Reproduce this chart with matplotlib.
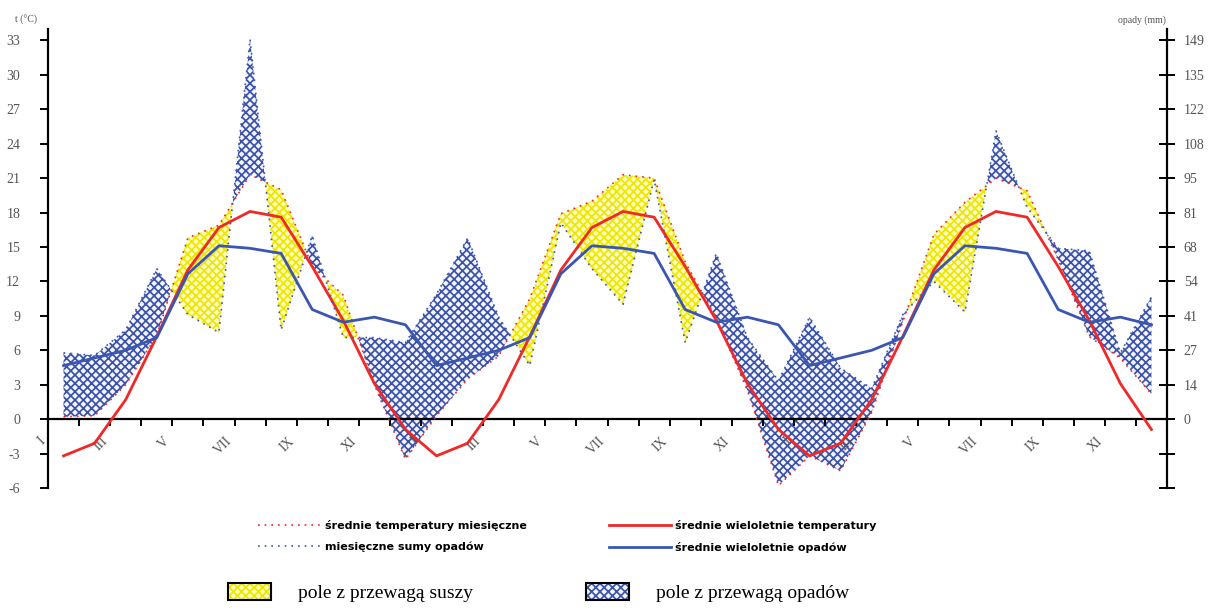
import numpy as np
import matplotlib.pyplot as plt
from matplotlib.lines import Line2D
from matplotlib.patches import Patch

months = ["I", "II", "III", "IV", "V", "VI", "VII", "VIII", "IX", "X", "XI", "XII"]

# monthly mean temperature (deg C), three consecutive years
temp_monthly = [0.2, 0.3, 3.0, 7.3, 15.8, 16.9, 21.3, 20.0, 13.3, 10.8, 3.0, -3.5,
                0.3, 3.5, 5.5, 10.5, 17.9, 19.0, 21.3, 21.0, 13.7, 8.8, 2.5, -5.8,
                -3.2, -4.5, 0.6, 8.5, 16.1, 18.9, 21.0, 19.9, 13.9, 7.2, 5.3, 2.2]
# monthly precipitation totals (mm)
prec_monthly = [26, 25, 35, 59, 41, 34, 149, 35, 72, 32, 32, 30,
                49, 71, 40, 21, 77, 59, 45, 94, 30, 65, 32, 15,
                40, 20, 12, 41, 54, 42, 113, 83, 67, 66, 26, 48]
# long-term means
temp_longterm = [-3.2, -2.1, 1.7, 7.2, 13.0, 16.7, 18.1, 17.6, 13.3, 8.6, 3.1, -0.9]
prec_longterm = [21, 24, 27, 32, 57, 68, 67, 65, 43, 38, 40, 37]

n_years = 3
mm_per_deg = 4.5

YELLOW_FACE = "#fffcc0"
YELLOW_HATCH = "#ece600"
BLUE_FACE = "#f4f6ff"
BLUE_HATCH = "#3b52a8"
RED = "#f02828"
BLUE = "#3a56b0"
GREY = "#555555"

plt.rcParams["hatch.linewidth"] = 1.25

fig = plt.figure(figsize=(12.1, 6.13), dpi=100)
ax = fig.add_axes([48 / 1210, 1 - 488 / 613, (1167 - 48) / 1210, (488 - 29) / 613])
ax2 = ax.twinx()

x = np.arange(12 * n_years) + 0.5
t = np.array(temp_monthly)
p = np.array(prec_monthly) / mm_per_deg
t_lt = np.tile(temp_longterm, n_years)
p_lt = np.tile(prec_longterm, n_years)

ax.fill_between(x, t, p, where=t >= p, interpolate=True, facecolor=YELLOW_FACE,
                edgecolor=YELLOW_HATCH, hatch="xxxx", linewidth=0, zorder=1)
ax.fill_between(x, t, p, where=p >= t, interpolate=True, facecolor=BLUE_FACE,
                edgecolor=BLUE_HATCH, hatch="xxxx", linewidth=0, zorder=1)

ax.plot(x, t, color=RED, lw=1.2, ls=(0, (1, 3)), zorder=3)
ax.plot(x, t_lt, color=RED, lw=2.0, zorder=4)
ax2.plot(x, prec_monthly, color=BLUE, lw=1.2, ls=(0, (1, 3)), zorder=3)
ax2.plot(x, p_lt, color=BLUE, lw=2.0, zorder=4)

ax.set_xlim(0, 12 * n_years)
ax.set_ylim(-6, 34)
ax2.set_ylim(-6 * mm_per_deg, 34 * mm_per_deg)

# axes styling
for s in ["top", "right"]:
    ax.spines[s].set_visible(False)
ax.spines["bottom"].set_position(("data", 0))
ax.spines["left"].set_linewidth(1.6)
ax.spines["bottom"].set_linewidth(1.6)
for s in ["top", "left", "bottom"]:
    ax2.spines[s].set_visible(False)
ax2.spines["right"].set_linewidth(1.6)

xt = np.arange(0, 12 * n_years + 1)
xlabels = [months[i % 12] if (i % 2 == 0 and i < 12 * n_years) else "" for i in xt]
ax.set_xticks(xt)
ax.set_xticklabels(xlabels, rotation=45, ha="right", va="top",
                   fontfamily="Liberation Serif", fontsize=10, color=GREY)
ax.tick_params(axis="x", direction="out", length=5, width=1.4, pad=6)

ax.set_yticks(np.arange(-6, 34, 3))
ax.set_yticklabels([str(v) for v in np.arange(-6, 34, 3)],
                   fontfamily="Liberation Serif", fontsize=10, color=GREY)
ax.tick_params(axis="y", direction="out", length=6, width=1.4, pad=14)

rt = np.arange(-2, 12) * 13.5
ax2.set_yticks(rt)
ax2.set_yticklabels(["" if v < 0 else str(int(np.floor(v + 0.5))) for v in rt],
                    fontfamily="Liberation Serif", fontsize=10, color=GREY)
ax2.tick_params(axis="y", direction="inout", length=12, width=1.4, pad=6)

fig.text(15 / 1210, 1 - 20 / 613, "t (°C)", fontsize=7, color=GREY,
         fontfamily="Liberation Serif", va="center")
fig.text(1118 / 1210, 1 - 20 / 613, "opady (mm)", fontsize=7, color=GREY,
         fontfamily="Liberation Serif", va="center")

# line legend
line_handles = [
    Line2D([], [], color=RED, lw=1.2, ls=(0, (1, 3))),
    Line2D([], [], color=BLUE, lw=1.2, ls=(0, (1, 3))),
    Line2D([], [], color=RED, lw=2.0),
    Line2D([], [], color=BLUE, lw=2.0),
]
line_labels = ["średnie temperatury miesięczne", "miesięczne sumy opadów",
               "średnie wieloletnie temperatury", "średnie wieloletnie opadów"]
fig.legend(line_handles, line_labels, ncol=2, loc="upper left",
           bbox_to_anchor=(258 / 1210, 1 - 520 / 613), frameon=False,
           borderpad=0, borderaxespad=0, handlelength=5.6, handletextpad=0.4,
           columnspacing=7.4, labelspacing=0.95,
           prop={"family": "DejaVu Sans", "weight": "bold", "size": 8})

# area legend: hatched box with a black frame on top
area_handles = [
    (Patch(facecolor=YELLOW_FACE, edgecolor=YELLOW_HATCH, hatch="xxxx", linewidth=0),
     Patch(fill=False, edgecolor="black", linewidth=1.5)),
    (Patch(facecolor=BLUE_FACE, edgecolor=BLUE_HATCH, hatch="xxxx", linewidth=0),
     Patch(fill=False, edgecolor="black", linewidth=1.5)),
]
fig.legend(area_handles, ["pole z przewagą suszy", "pole z przewagą opadów"],
           ncol=2, loc="upper left", bbox_to_anchor=(228 / 1210, 1 - 583 / 613),
           frameon=False, borderpad=0, borderaxespad=0, handlelength=2.2,
           handleheight=1.0, handletextpad=1.4, columnspacing=5.8,
           prop={"family": "Liberation Serif", "size": 14})

fig.savefig("out.png", dpi=100)
